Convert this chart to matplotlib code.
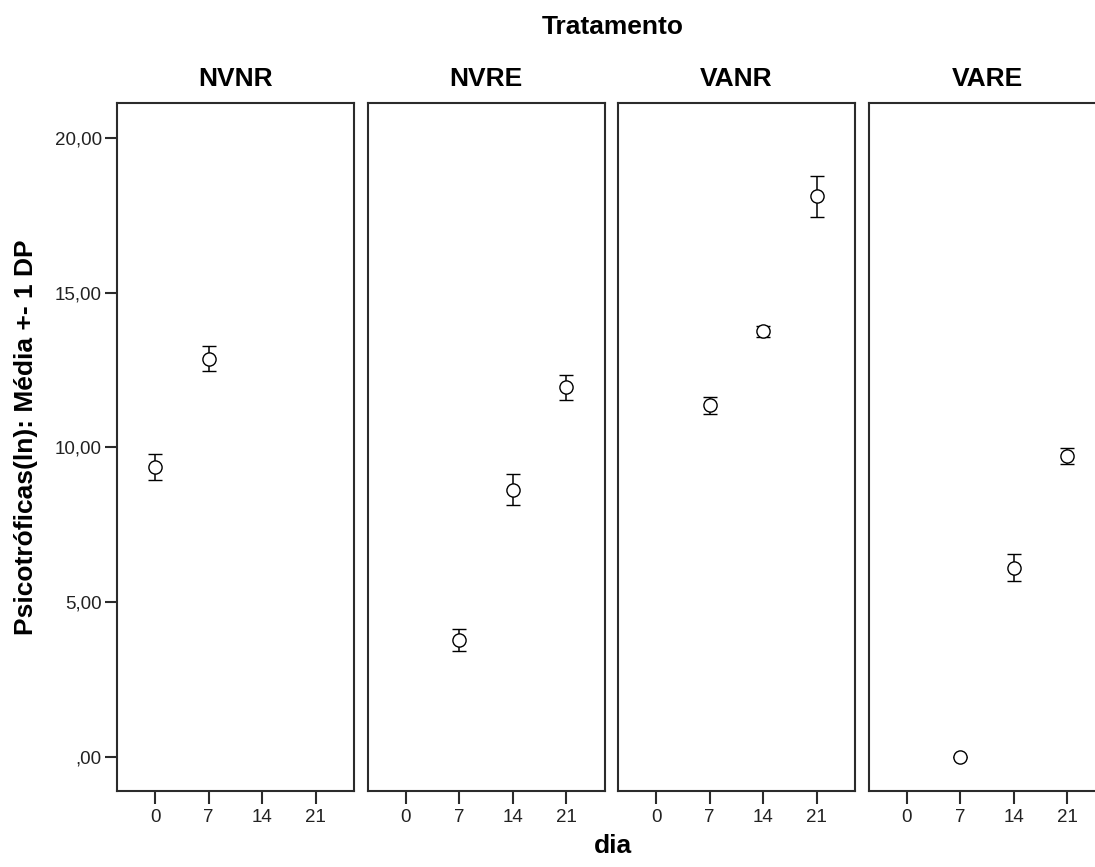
import matplotlib
matplotlib.use("Agg")
import matplotlib.pyplot as plt
import numpy as np

plt.rcParams['font.family'] = ['Liberation Sans', 'DejaVu Sans']

# categories
tratamentos = ["NVNR", "NVRE", "VANR", "VARE"]
dias = ["0", "7", "14", "21"]

# mean and SD per treatment (None = no data for that day)
medias = {
    "NVNR": [9.38, 12.87, None, None],
    "NVRE": [None, 3.78, 8.63, 11.94],
    "VANR": [None, 11.36, 13.75, 18.11],
    "VARE": [None, 0.00, 6.12, 9.73],
}
dp = {
    "NVNR": [0.42, 0.40, None, None],
    "NVRE": [None, 0.35, 0.50, 0.40],
    "VANR": [None, 0.28, 0.19, 0.66],
    "VARE": [None, 0.00, 0.43, 0.25],
}
yticks = [0, 5, 10, 15, 20]
ytick_labels = [",00", "5,00", "10,00", "15,00", "20,00"]

W, H = 1095, 867
fig = plt.figure(figsize=(W / 100, H / 100), dpi=100)

left0, step, pw = 117, 250.5, 237
top, bottom = 103, 791
edge = "#2b2b2b"

for i, t in enumerate(tratamentos):
    ax = fig.add_axes([(left0 + i * step) / W, 1 - bottom / H, pw / W, (bottom - top) / H])
    x = [j for j, m in enumerate(medias[t]) if m is not None]
    y = [m for m in medias[t] if m is not None]
    e = [s for s in dp[t] if s is not None]
    ax.errorbar(x, y, yerr=e, fmt="o", mfc="white", mec="black", ms=9.5, mew=1.0,
                ecolor="black", elinewidth=1.1, capsize=5, capthick=1.1, zorder=3)
    ax.set_xlim(-0.71, 3.71)
    ax.set_ylim(-1.1, 21.13)
    ax.set_xticks(range(len(dias)))
    ax.set_xticklabels(dias)
    ax.text(0.5, 1 + 24 / (bottom - top), t, transform=ax.transAxes, ha="center",
            va="center", fontsize=19, fontweight="bold")
    for s in ax.spines.values():
        s.set_color(edge)
        s.set_linewidth(1.5)
    ax.tick_params(axis="x", direction="out", length=9, width=1.5, color=edge,
                   labelsize=13.5, labelcolor="#222222", pad=4)
    if i == 0:
        ax.set_yticks(yticks)
        ax.set_yticklabels(ytick_labels)
        ax.tick_params(axis="y", direction="out", length=9, width=1.5, color=edge,
                       labelsize=13.5, labelcolor="#222222", pad=2)
    else:
        ax.set_yticks([])

cx = 613 / W
fig.text(cx, 1 - 27 / H, "Tratamento", ha="center", va="center", fontsize=19, fontweight="bold")
fig.text(cx, 1 - 846 / H, "dia", ha="center", va="center", fontsize=19, fontweight="bold")
fig.text(26 / W, 1 - 437 / H, "Psicotróficas(ln): Média +- 1 DP", rotation=90,
         ha="center", va="center", fontsize=19, fontweight="bold")

fig.savefig("out.png", dpi=100)
